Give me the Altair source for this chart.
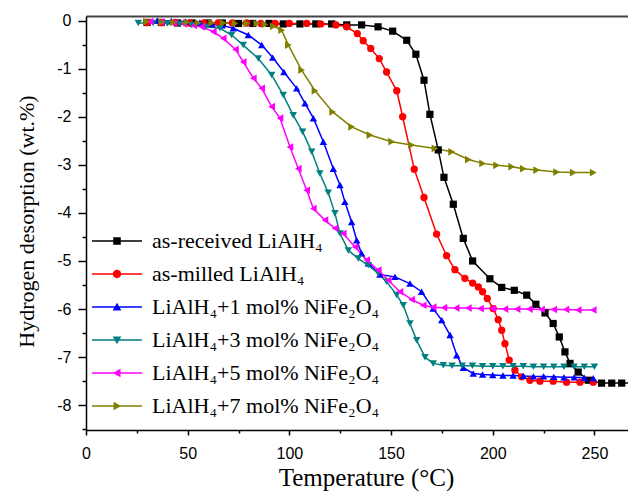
import altair as alt
import pandas as pd

series_names = [
    "as-received LiAlH₄",
    "as-milled LiAlH₄",
    "LiAlH₄+1 mol% NiFe₂O₄",
    "LiAlH₄+3 mol% NiFe₂O₄",
    "LiAlH₄+5 mol% NiFe₂O₄",
    "LiAlH₄+7 mol% NiFe₂O₄",
]
colors = ["#000000", "#FF0000", "#0000FF", "#008080", "#FF00FF", "#808000"]
shapes = ["square", "circle", "triangle-up", "triangle-down", "triangle-left", "triangle-right"]
sizes = [52, 60, 66, 66, 66, 66]

# legend symbols: line + marker
LINE = "M-3.57,-0.11H3.57V0.11H-3.57Z"
legend_paths = [
    LINE + "M-0.54,-0.54H0.54V0.54H-0.54Z",
    LINE + "M0.6,0A0.6,0.6 0 1,1 -0.6,0A0.6,0.6 0 1,1 0.6,0Z",
    LINE + "M0,-0.62L0.62,0.5H-0.62Z",
    LINE + "M0,0.62L-0.62,-0.5H0.62Z",
    LINE + "M-0.62,0L0.5,-0.62V0.62Z",
    LINE + "M0.62,0L-0.5,0.62V-0.62Z",
]

# as-received LiAlH4
t_received = [30, 37, 45, 52, 60, 67, 75, 82, 90, 97, 105.2, 113, 120.8, 128.2, 135.5, 143.6,
              150.8, 157.7, 162.2, 166.2, 169.1, 173.2, 176.0, 180.6, 185.5, 190.1, 198.6,
              204.4, 210.6, 216.7, 221.2, 225.7, 229.7, 232.7, 235.5, 238.0, 242.0, 247.0,
              253.5, 258.5, 263.4, 269.1]
h_received = [-0.04, -0.04, -0.05, -0.05, -0.05, -0.05, -0.06, -0.06, -0.06, -0.07, -0.07, -0.07,
              -0.07, -0.09, -0.09, -0.13, -0.22, -0.41, -0.70, -1.24, -1.95, -2.69, -3.26,
              -3.82, -4.53, -5.00, -5.37, -5.55, -5.61, -5.71, -5.90, -6.08, -6.30, -6.58,
              -6.89, -7.13, -7.31, -7.48, -7.54, -7.54, -7.54, -7.54]

# as-milled LiAlH4
t_milled = [30, 37, 44, 51, 58, 65, 72, 79, 86, 93, 100, 108.5, 115.4, 122.9, 128.2, 133.4,
            136.3, 140.0, 144.2, 147.8, 152.8, 155.7, 161.4, 166.2, 172.4, 177.3, 181.4, 186.3,
            190.1, 192.9, 195.0, 197.3, 200.2, 202.7, 204.4, 206.0, 208.1, 210.9, 214.2, 218.3,
            223.2, 229.7, 236.3, 242.9, 249.4]
h_milled = [-0.04, -0.04, -0.04, -0.05, -0.05, -0.05, -0.05, -0.05, -0.06, -0.06, -0.06, -0.06,
            -0.07, -0.09, -0.13, -0.27, -0.42, -0.58, -0.79, -1.07, -1.46, -2.00, -3.09,
            -3.68, -4.44, -4.89, -5.18, -5.36, -5.46, -5.54, -5.64, -5.78, -5.99, -6.22,
            -6.44, -6.72, -7.06, -7.27, -7.41, -7.48, -7.50, -7.50, -7.52, -7.52, -7.52]

# LiAlH4 + 1 mol% NiFe2O4
t_1mol = [35, 42, 49, 56, 62, 67, 72.4, 79.8, 86.4, 91.8, 97.3, 103.6, 107.7, 111.8, 116.7,
          121.6, 124.9, 127.3, 130.6, 133.1, 135.5, 138.8, 144.5, 151.9, 159.3, 165.0, 170.7,
          174.9, 179.0, 182.3, 185.5, 190.4, 195, 200, 205, 210, 215, 220, 225, 230, 235,
          240, 245, 249.4]
h_1mol = [0.0, -0.01, -0.02, -0.04, -0.07, -0.10, -0.16, -0.30, -0.51, -0.77, -1.07, -1.41,
          -1.72, -2.03, -2.52, -3.08, -3.42, -3.77, -4.19, -4.57, -4.84, -5.05, -5.28, -5.33,
          -5.47, -5.64, -5.99, -6.23, -6.54, -6.96, -7.22, -7.34, -7.36, -7.37, -7.38,
          -7.38, -7.39, -7.40, -7.40, -7.41, -7.42, -7.42, -7.43, -7.44]

# LiAlH4 + 3 mol% NiFe2O4
t_3mol = [25.7, 33, 40, 46, 52, 59, 65.9, 71.6, 77.3, 84.7, 91.3, 97.0, 101.9, 106.5, 111.0,
          115.0, 119.1, 122.4, 124.9, 129.0, 133.9, 138.8, 143.7, 147.8, 152.8, 156.0, 159.3,
          162.6, 166.7, 170.7, 175.7, 180, 185, 190, 195, 200, 205, 210, 215, 220, 225, 230,
          235, 240, 245, 250]
h_3mol = [-0.05, -0.05, -0.06, -0.07, -0.09, -0.13, -0.16, -0.30, -0.51, -0.79, -1.13, -1.55,
          -1.97, -2.31, -2.73, -3.18, -3.58, -4.01, -4.43, -4.78, -4.95, -5.09, -5.26, -5.43,
          -5.71, -5.92, -6.30, -6.65, -7.00, -7.13, -7.17, -7.18, -7.18, -7.18, -7.19,
          -7.19, -7.19, -7.19, -7.19, -7.20, -7.20, -7.20, -7.20, -7.20, -7.20, -7.20]

# LiAlH4 + 5 mol% NiFe2O4
t_5mol = [31.5, 37, 43, 48, 53, 56.9, 62.6, 67.5, 73.5, 77.3, 82.3, 86.4, 91.3, 95.4, 100.3,
          104.4, 108.5, 111.8, 117.5, 122.4, 126.5, 132.3, 138.0, 143.7, 148.6, 154.4, 160.1,
          165.8, 170.7, 176, 182, 188, 194, 200, 206, 212, 218, 224, 230, 236, 242, 249.4]
h_5mol = [-0.02, -0.03, -0.05, -0.07, -0.10, -0.13, -0.23, -0.37, -0.60, -0.86, -1.20, -1.41,
          -1.79, -2.03, -2.63, -3.08, -3.53, -3.91, -4.15, -4.32, -4.43, -4.71, -4.98,
          -5.19, -5.40, -5.64, -5.80, -5.92, -5.96, -5.97, -5.98, -5.98, -5.99, -5.99,
          -6.00, -6.00, -6.00, -6.01, -6.01, -6.01, -6.02, -6.02]

# LiAlH4 + 7 mol% NiFe2O4
t_7mol = [29.8, 37.2, 42.9, 49.5, 55.2, 61.8, 67.5, 73.3, 79.1, 84.0, 88.0, 92.1, 96.2, 99.5,
          106.0, 112.6, 121.3, 130.6, 139.6, 150.3, 160.1, 171.6, 179.8, 188.0, 195.0, 201.9,
          209.3, 215.0, 221.6, 231.4, 239.6, 249.4]
h_7mol = [-0.02, -0.03, -0.04, -0.04, -0.05, -0.05, -0.05, -0.06, -0.06, -0.06, -0.08, -0.12,
          -0.20, -0.51, -1.03, -1.46, -1.90, -2.21, -2.38, -2.52, -2.59, -2.66, -2.73, -2.89,
          -2.97, -3.01, -3.04, -3.08, -3.11, -3.15, -3.16, -3.16]

temps = [t_received, t_milled, t_1mol, t_3mol, t_5mol, t_7mol]
vals = [h_received, h_milled, h_1mol, h_3mol, h_5mol, h_7mol]

x_ticks = [0, 25, 50, 75, 100, 125, 150, 175, 200, 225, 250]
y_ticks = [-8.5, -8, -7.5, -7, -6.5, -6, -5.5, -5, -4.5, -4, -3.5, -3, -2.5, -2, -1.5, -1, -0.5, 0]

rows = []
for name, ts, hs in zip(series_names, temps, vals):
    for t, h in zip(ts, hs):
        rows.append({"series": name, "T": t, "H": h})
df = pd.DataFrame(rows)

PLOT_W = 542
PLOT_H = 414
xscale = alt.Scale(domain=[0, 266.5], nice=False, zero=False)
yscale = alt.Scale(domain=[-8.515, 0.095], nice=False, zero=False)

y_axis = alt.Axis(
    values=y_ticks,
    labelExpr="datum.value % 1 === 0 ? toString(datum.value) : ''",
    tickSize={"condition": {"test": "datum.value % 1 === 0", "value": 8}, "value": 4},
    labelFont="Liberation Sans", labelFontSize=16, labelColor="#000000", labelPadding=7,
    labelOverlap=False,
    grid=False, domainColor="#000000", domainWidth=1.5, tickColor="#000000", tickWidth=1.5,
    titleFont="Liberation Serif", titleFontSize=22, titleFontWeight="normal",
    titleColor="#000000", titleX=-53, titleY=205, titleAlign="center",
    titleBaseline="alphabetic",
)
y_enc = alt.Y("H:Q", scale=yscale, axis=y_axis, title="Hydrogen desorption (wt.%)")

x_axis_bottom = alt.Axis(
    values=x_ticks,
    labelExpr="datum.value % 50 === 0 ? toString(datum.value) : ''",
    tickSize={"condition": {"test": "datum.value % 50 === 0", "value": 5}, "value": 3},
    labelFont="Liberation Sans", labelFontSize=16, labelColor="#000000", labelPadding=10,
    labelOverlap=False, labelFlush=False,
    grid=False, domainColor="#000000", domainWidth=1.5, tickColor="#000000", tickWidth=1.5,
    titleFont="Liberation Serif", titleFontSize=25, titleFontWeight="normal",
    titleColor="#000000", titleX=280, titleY=55, titleAlign="center",
    titleBaseline="alphabetic",
)
x_axis_top = alt.Axis(
    orient="top", labels=False, ticks=False, grid=False, title=None,
    domainColor="#444444", domainWidth=2,
)

color_enc = alt.Color("series:N", scale=alt.Scale(domain=series_names, range=colors), legend=None)

base = alt.Chart(df)

lines = base.mark_line(strokeWidth=1.5, clip=True).encode(
    x=alt.X("T:Q", scale=xscale, axis=x_axis_top),
    y=y_enc,
    color=color_enc,
    order=alt.Order("T:Q"),
)

points = base.mark_point(filled=True, opacity=1, strokeWidth=0, clip=True).encode(
    x=alt.X("T:Q", scale=xscale, axis=x_axis_bottom, title="Temperature (°C)"),
    y=y_enc,
    color=color_enc,
    shape=alt.Shape("series:N", scale=alt.Scale(domain=series_names, range=shapes), legend=None),
    size=alt.Size("series:N", scale=alt.Scale(domain=series_names, range=sizes), legend=None),
)

legend_def = alt.Legend(
    title=None, orient="none", legendX=20, legendY=214, padding=0,
    symbolSize=196, symbolStrokeWidth=0, symbolOpacity=1,
    labelFont="Liberation Serif", labelFontSize=22, labelColor="#000000",
    labelOffset=24, labelLimit=0, rowPadding=11,
)

legend_layer = base.mark_point(filled=True, opacity=0, clip=True).encode(
    x=alt.X("T:Q", scale=xscale, axis=None),
    y=y_enc,
    color=alt.Color("series:N", scale=alt.Scale(domain=series_names, range=colors), legend=legend_def),
    shape=alt.Shape("series:N", scale=alt.Scale(domain=series_names, range=legend_paths), legend=legend_def),
)

chart = (
    alt.layer(lines, points, legend_layer)
    .resolve_scale(shape="independent", color="independent")
    .resolve_axis(x="independent")
    .properties(
        width=PLOT_W,
        height=PLOT_H,
        autosize=alt.AutoSizeParams(type="none"),
        padding={"left": 78, "top": 8, "right": 0, "bottom": 63},
        background="white",
    )
    .configure_view(stroke=None)
)

chart.save("out.html", embed_options={"renderer": "svg", "actions": False})
